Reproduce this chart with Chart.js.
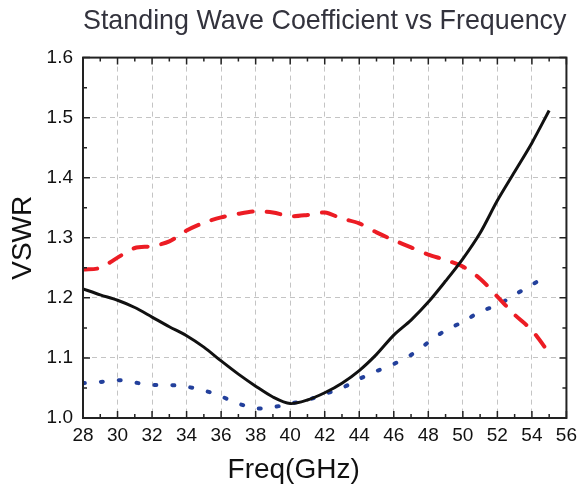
<!DOCTYPE html>
<html>
<head>
<meta charset="utf-8">
<script src="https://cdn.jsdelivr.net/npm/chart.js@4/dist/chart.umd.min.js"></script>
<style>
  html, body { margin: 0; padding: 0; background: #fff; }
  #wrap { width: 583px; height: 490px; }
</style>
</head>
<body>
<div id="wrap"><canvas id="chart"></canvas></div>
<script>
// frequency points (GHz)
const freq = [28, 29, 30, 31, 32, 33, 34, 35, 36, 37, 38, 39, 40, 41,
  42, 43, 44, 45, 46, 47, 48, 49, 50, 51, 52, 53, 54, 55]

// VSWR readings, one per frequency
const vswrSolid = [1.215, 1.205, 1.196, 1.184, 1.168, 1.152, 1.137, 1.118, 1.095, 1.073,
  1.053, 1.035, 1.024, 1.030, 1.042, 1.058, 1.079, 1.106, 1.138, 1.163,
  1.193, 1.228, 1.265, 1.308, 1.362, 1.410, 1.458, 1.512]
const vswrDashed = [1.247, 1.250, 1.267, 1.283, 1.286, 1.294, 1.312, 1.325, 1.334, 1.340,
  1.344, 1.342, 1.336, 1.338, 1.342, 1.332, 1.324, 1.309, 1.296, 1.284,
  1.272, 1.263, 1.252, 1.232, 1.202, 1.172, 1.146, 1.108]
const vswrDotted = [1.058, 1.060, 1.063, 1.059, 1.055, 1.055, 1.052, 1.046, 1.036, 1.024,
  1.016, 1.018, 1.024, 1.030, 1.040, 1.050, 1.065, 1.078, 1.090, 1.105,
  1.126, 1.146, 1.160, 1.177, 1.188, 1.205, 1.222, 1.238]

const xRange = [28, 56]
const yRange = [1.0, 1.6]

const toPoints = (ys) => freq.map((f, i) => ({ x: f, y: ys[i] }))

// frame + inward tick marks on all four sides, plus the x axis title
const framePlugin = {
  id: 'frame',
  afterDatasetsDraw(chart) {
    const { ctx, chartArea: a, scales } = chart
    const x = scales.x, y = scales.y
    ctx.save()
    ctx.strokeStyle = '#222'
    ctx.lineWidth = 1.5
    for (let v = xRange[0]; v <= xRange[1]; v += 1) {
      const px = x.getPixelForValue(v)
      const len = v % 2 === 0 ? 7 : 4
      ctx.beginPath()
      ctx.moveTo(px, a.bottom); ctx.lineTo(px, a.bottom - len)
      ctx.moveTo(px, a.top); ctx.lineTo(px, a.top + len)
      ctx.stroke()
    }
    for (let i = 0; i <= 12; i++) {
      const v = yRange[0] + i * 0.05
      const py = y.getPixelForValue(v)
      const len = i % 2 === 0 ? 7 : 4
      ctx.beginPath()
      ctx.moveTo(a.left, py); ctx.lineTo(a.left + len, py)
      ctx.moveTo(a.right, py); ctx.lineTo(a.right - len, py)
      ctx.stroke()
    }
    ctx.lineWidth = 2
    ctx.strokeRect(a.left, a.top, a.right - a.left, a.bottom - a.top)

    ctx.fillStyle = '#111'
    ctx.font = '28px "Liberation Sans", Arial, sans-serif'
    ctx.textAlign = 'center'
    ctx.textBaseline = 'middle'
    ctx.fillText('Freq(GHz)', x.getPixelForValue(40.2), a.bottom + 52)
    ctx.restore()
  }
}

new Chart(document.getElementById('chart'), {
  type: 'line',
  data: {
    datasets: [
      {
        label: 'Solid',
        data: toPoints(vswrSolid),
        borderColor: '#111111',
        borderWidth: 3,
        pointRadius: 0,
        tension: 0.3
      },
      {
        label: 'Dashed',
        data: toPoints(vswrDashed),
        borderColor: '#ec1c24',
        borderWidth: 4,
        borderDash: [14, 14],
        borderCapStyle: 'round',
        pointRadius: 0,
        tension: 0.3
      },
      {
        label: 'Dotted',
        data: toPoints(vswrDotted),
        borderColor: '#23409c',
        borderWidth: 4,
        borderDash: [2, 16],
        borderCapStyle: 'round',
        pointRadius: 0,
        tension: 0.3
      }
    ]
  },
  options: {
    responsive: true,
    maintainAspectRatio: false,
    animation: false,
    layout: {
      padding: { left: 0, right: 12, top: 0, bottom: 0 }
    },
    scales: {
      x: {
        type: 'linear',
        min: xRange[0],
        max: xRange[1],
        afterFit(scale) { scale.height = 72 },
        ticks: {
          stepSize: 2,
          padding: 6,
          color: '#111',
          font: { size: 19, family: '"Liberation Sans", Arial, sans-serif' }
        },
        grid: {
          color: '#c4c4c4',
          lineWidth: 1,
          drawTicks: false
        },
        border: { display: false, dash: [5, 4] }
      },
      y: {
        min: yRange[0],
        max: yRange[1],
        afterFit(scale) { scale.width = 83 },
        ticks: {
          stepSize: 0.1,
          padding: 10,
          color: '#111',
          font: { size: 19, family: '"Liberation Sans", Arial, sans-serif' },
          callback: (v) => v.toFixed(1)
        },
        grid: {
          color: '#c4c4c4',
          lineWidth: 1,
          drawTicks: false
        },
        border: { display: false, dash: [5, 4] },
        title: {
          display: true,
          text: 'VSWR',
          color: '#111',
          padding: { top: 6, bottom: 0 },
          font: { size: 28, family: '"Liberation Sans", Arial, sans-serif' }
        }
      }
    },
    plugins: {
      legend: { display: false },
      tooltip: { enabled: false },
      title: {
        display: true,
        text: 'Standing Wave Coefficient vs Frequency',
        fullSize: false,
        color: '#33333d',
        padding: { top: 4, bottom: 20 },
        font: { size: 28, weight: 'normal', family: '"Liberation Sans", Arial, sans-serif' }
      }
    }
  },
  plugins: [framePlugin]
})
</script>
</body>
</html>
